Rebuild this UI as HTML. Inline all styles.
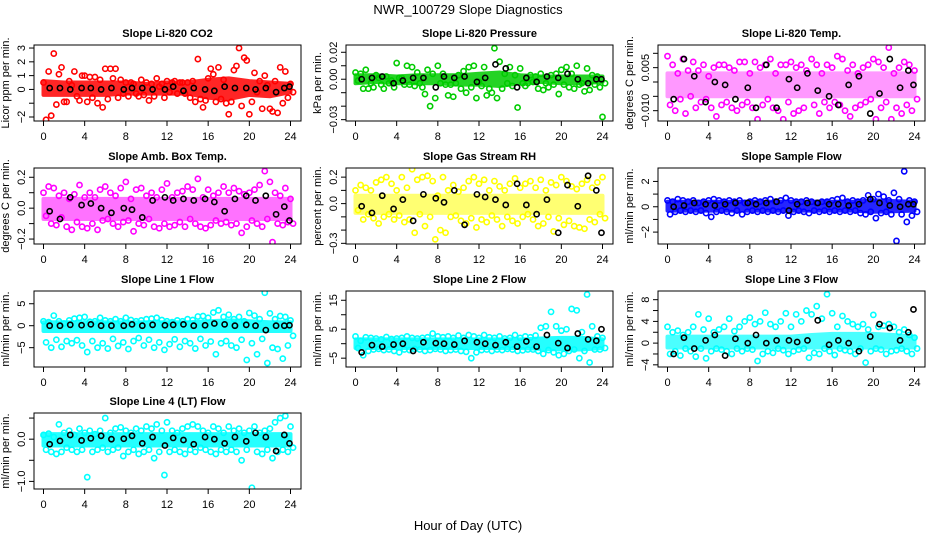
<!DOCTYPE html>
<html><head><meta charset="utf-8">
<style>
html,body{margin:0;padding:0;background:#fff;}
svg{display:block;font-family:"Liberation Sans",sans-serif;}
</style></head>
<body>
<svg id="chart" width="936" height="540" viewBox="0 0 936 540" xmlns="http://www.w3.org/2000/svg">
<text x="468" y="14" text-anchor="middle" font-size="13">NWR_100729  Slope Diagnostics</text>
<text x="468" y="530" text-anchor="middle" font-size="13">Hour of Day (UTC)</text>
</svg>
<script>
// ---- shared data ----
const xTicks = [0,4,8,12,16,20,24];
const blkHours = [0.6,1.6,2.6,3.7,4.6,5.6,6.6,7.8,8.6,9.6,10.6,11.8,12.6,13.6,14.6,15.7,16.6,17.6,18.6,19.7,20.6,21.6,22.6,23.4,23.9];

// CO2
const co2BandHi = [0.6,0.5,0.5,0.5,0.5,0.4,0.5,0.5,0.7,0.8,0.6,0.5,0.4];
const co2BandLo = [-0.4,-0.4,-0.4,-0.4,-0.3,-0.3,-0.3,-0.3,-0.6,-0.7,-0.4,-0.5,-0.2];
const co2A = [0.5,1.3,2.6,1.1,-0.9,0.6,1.3,-0.8,1.0,0.9,0.9,0.7,1.5,1.5,1.5,0.7,0.5,0.5,-0.3,0.7,0.5,0.4,0.8,0.4,0.6,0.5,-0.3,0.5,0.5,0.6,2.2,-1.3,0.8,1.1,1.6,0.7,-1.8,1.4,3.0,2.3,-1.8,1.2,0.6,1.0,-1.4,0.6,1.6,1.3,0.4];
const co2B = [-2.2,-1.9,-1.1,1.6,-0.9,0.3,-0.5,1.0,-0.9,-0.6,-1.0,-1.3,-0.7,0.8,-0.6,-0.3,-0.5,0.4,-0.5,-0.4,-0.8,-0.5,0.2,-0.6,-0.2,0.6,0.5,-0.3,-0.6,-0.9,-0.7,-0.8,1.5,-0.9,-0.7,-1.0,-0.9,1.7,-1.2,2.1,-0.9,-0.2,-1.4,0.3,-1.6,-1.7,-1.0,-0.6,-0.2];
const co2K = [0.1,0.1,0.0,0.1,0.1,0.0,0.1,0.0,0.1,0.1,0.0,0.0,0.2,-0.1,0.1,0.0,-0.1,0.2,0.1,0.1,0.0,0.1,-0.2,0.1,0.2];
// Pressure
const presBandHi = [.003,.003,.002,.003,.003,.003,.004,.005,.003,.002,.002,.002,.002];
const presBandLo = [-.003,-.002,-.003,-.003,-.003,-.004,-.004,-.005,-.003,-.002,-.003,-.003,-.002];
const presA = [.005,.004,.007,-.003,.003,-.004,.002,-.001,.012,.001,.010,.009,.005,-.006,.007,.004,.010,.004,-.012,-.013,.003,.006,.009,.010,-.002,.009,-.007,.023,.013,.004,.009,.003,.008,-.005,.003,.002,.004,-.003,.003,.004,.007,.009,.004,.010,-.003,.008,.003,.002,-.028];
const presB = [-.001,-.007,-.007,-.006,.001,-.007,-.003,-.006,.001,-.004,-.004,-.005,-.003,-.011,-.020,-.014,-.003,-.004,-.004,-.003,-.007,-.010,-.006,-.014,-.005,-.012,-.010,-.014,-.007,-.003,-.005,-.021,-.003,-.003,-.002,-.007,-.008,-.006,-.004,-.011,-.004,-.006,-.007,-.004,-.009,-.008,-.004,-.006,-.003];
const presK = [0,.001,.002,-.003,-.001,.001,.001,-.006,.002,.001,.002,-.002,.001,.011,.008,-.006,.001,-.002,.002,.001,.004,0,-.003,0,0];
// Li-820 Temp
const tempBandHi = [.003,.003,.003,.003,.003,.003,.003,.003,.003,.003,.003,.003,.003];
const tempBandLo = [-.005,-.005,-.005,-.005,-.005,-.005,-.005,-.005,-.005,-.005,-.005,-.005,-.005];
const tempA = [.009,.006,.003,.008,.004,.007,.004,.006,.002,.005,.006,.006,.005,.004,.007,.007,.003,.007,.005,.006,.008,.003,.006,.006,.007,.005,.006,.004,.008,.006,.003,.006,.005,.009,.008,.004,.006,.003,.005,.006,.008,.007,.005,.012,.003,.005,.007,.006,.004];
const tempB = [-.008,-.010,-.006,-.011,-.005,-.009,-.007,-.006,-.009,-.012,-.008,-.007,-.009,-.010,-.008,-.007,-.009,-.013,-.008,-.006,-.009,-.010,-.013,-.007,-.011,-.010,-.009,-.015,-.008,-.011,-.007,-.009,-.007,-.008,-.010,-.012,-.009,-.008,-.007,-.006,-.013,-.009,-.007,-.013,-.009,-.011,-.008,-.010,-.006];
const tempK = [-.006,.008,.002,-.007,.000,-.001,-.006,-.002,-.009,.006,-.009,.001,-.002,.003,-.003,-.005,-.008,-.001,.002,-.011,-.004,.008,-.002,.004,-.001];
// Amb box temp
const ambBandHi = [.06,.06,.06,.06,.06,.06,.06,.06,.06,.06,.06,.06,.06];
const ambBandLo = [-.07,-.07,-.07,-.07,-.07,-.07,-.07,-.07,-.07,-.07,-.07,-.07,-.07];
const ambA = [.10,.14,.13,.08,.10,.06,.09,.15,.07,.10,.07,.12,.14,.10,.08,.13,.17,.06,.12,.13,.08,.10,.07,.12,.16,.07,.10,.11,.14,.12,.19,.07,.12,.08,.10,.14,.10,.13,.11,.09,.10,.12,.15,.24,.17,.10,.08,.13,.06];
const ambB = [-.05,-.10,-.11,-.06,-.12,-.14,-.09,-.12,-.13,-.10,-.14,-.08,-.07,-.10,-.12,-.09,-.08,-.15,-.10,-.11,-.07,-.12,-.13,-.10,-.12,-.11,-.09,-.12,-.07,-.10,-.12,-.13,-.11,-.08,-.10,-.09,-.11,-.10,-.16,-.12,-.08,-.10,-.12,-.07,-.22,-.10,-.11,-.09,-.10];
const ambK = [-.02,-.07,.07,.02,.03,.00,-.03,.00,-.01,-.06,.05,.07,.05,.06,.05,.06,.04,-.02,.06,.08,.05,.08,-.04,.01,-.08];
// Gas stream RH
const rhBandHi = [.06,.06,.06,.06,.06,.06,.06,.06,.06,.06,.06,.06,.06];
const rhBandLo = [-.07,-.07,-.07,-.07,-.07,-.07,-.07,-.07,-.07,-.07,-.07,-.07,-.07];
const rhA = [.10,.14,.12,.10,.16,.18,.20,.15,.10,.20,.12,.26,.18,.20,.21,.17,.06,.20,.10,.14,.09,.12,.17,.20,.15,.18,.10,.17,.13,.10,.15,.19,.12,.15,.17,.12,.18,.10,.16,.14,.20,.17,.13,.11,.15,.18,.12,.16,.20];
const rhB = [-.05,-.12,-.08,-.11,-.15,-.10,-.08,-.12,-.09,-.14,-.12,-.22,-.08,-.17,-.10,-.27,-.20,-.22,-.10,-.09,-.13,-.15,-.11,-.18,-.12,-.14,-.09,-.12,-.17,-.10,-.13,-.15,-.10,-.08,-.12,-.17,-.15,-.10,-.21,-.11,-.16,-.13,-.17,-.18,-.19,-.12,-.14,-.08,-.11];
const rhK = [-.02,-.07,.06,-.04,.03,-.13,.07,.04,.01,.10,-.16,.07,.05,.03,-.01,.15,-.01,-.08,.03,-.22,.14,-.02,.21,.10,-.22];
// Sample flow
const sfBandHi = [.4,.4,.4,.4,.4,.4,.4,.4,.4,.4,.5,.45,.4];
const sfBandLo = [-.3,-.3,-.3,-.3,-.3,-.3,-.3,-.3,-.3,-.3,-.4,-.35,-.3];
const sfA = [.5,.4,.6,.5,.4,.5,.3,.4,.5,.6,.5,.4,.5,.4,.5,.3,.4,.5,.4,.5,.6,.4,.5,.7,.5,.4,.4,.5,.4,.3,.4,.4,.5,.6,.7,.4,.5,.4,.5,.9,.6,1.0,.8,.5,1.1,.6,2.8,.5,.4];
const sfB = [-.6,-.4,-.3,-.4,-.3,-.4,-.3,-.5,-.8,-.4,-.3,-.4,-.5,-.3,-.6,-.4,-.3,-.4,-.3,-.4,-.3,-.4,-.3,-.7,-.4,-.3,-.4,-.5,-.3,-.4,-.3,-.4,-.3,-.4,-.3,-.4,-.3,-.5,-.6,-.4,-.9,-.5,-.4,-.6,-2.7,-.6,-1.2,-.7,-.4];
const sfK = [.0,.1,.3,.2,.1,.2,.3,.3,.2,.3,.4,-.3,.2,.3,.3,.2,.2,.1,.2,.6,.3,.1,.0,.2,.2];
// Line 1
const l1BandHi = [0.8,0.8,0.8,0.8,0.8,0.8,0.8,0.8,1.0,1.2,1.0,0.8,0.8];
const l1BandLo = [-1.2,-1.2,-1.2,-1.2,-1.2,-1.2,-1.2,-1.2,-1.2,-1.2,-1.2,-1.2,-1.2];
const l1A = [1.0,0.8,2.3,1.0,0.5,1.2,1.6,1.8,2.0,0.9,1.0,1.8,1.2,1.0,1.5,1.0,1.8,1.3,1.0,1.2,1.5,1.6,1.8,1.3,1.0,0.8,1.2,1.0,1.5,1.3,2.1,2.2,1.8,3.0,3.5,2.0,2.5,1.5,2.0,1.0,2.9,2.3,1.5,7.5,2.8,1.5,2.2,2.0,1.2];
const l1B = [-3.8,-5.0,-3.2,-4.8,-3.5,-4.0,-3.3,-4.5,-6.0,-3.5,-5.0,-4.0,-5.2,-3.0,-4.6,-3.8,-5.3,-3.5,-2.8,-4.5,-3.2,-5.0,-3.8,-5.5,-4.2,-3.1,-4.8,-3.5,-4.0,-5.2,-3.0,-4.5,-3.6,-6.5,-4.0,-3.5,-4.5,-5.0,-3.2,-7.8,-4.0,-6.5,-3.0,-8.5,-5.0,-5.3,-7.5,-4.5,-2.3];
const l1K = [0,0,0.2,0.1,0.3,0,0,0,0.3,0,0.2,0.1,0.2,0.3,0,0.1,0.5,0.3,0,0.2,0,-1.0,0,0,0.1];
// Line 2
const l2BandHi = [1.5,1.5,1.5,1.5,1.5,1.5,1.5,1.5,1.5,1.8,2.0,2.0,1.5];
const l2BandLo = [-1.5,-1.5,-1.5,-1.5,-1.5,-1.5,-1.5,-1.5,-1.5,-1.8,-2.0,-2.0,-1.5];
const l2A = [2.5,1.0,2.2,2.0,1.8,1.5,2.3,1.6,1.8,2.0,2.5,2.0,1.8,2.0,2.2,3.5,2.5,2.2,2.5,2.0,2.8,2.0,3.0,2.5,2.0,3.0,2.2,2.0,2.5,1.8,2.0,3.0,2.0,2.5,2.2,2.8,5.5,6.0,11.0,6.0,4.5,5.0,12.0,11.5,4.0,17.0,6.0,2.5,2.0];
const l2B = [-1.5,-4.0,-2.5,-2.0,-1.8,-2.2,-2.0,-2.5,-3.0,-2.0,-2.2,-1.8,-2.0,-2.5,-2.2,-1.8,-2.0,-2.5,-2.2,-2.0,-2.5,-2.8,-5.0,-3.0,-2.2,-2.0,-2.5,-2.0,-2.2,-1.8,-2.0,-2.5,-2.3,-2.0,-2.0,-2.5,-3.5,-2.2,-3.0,-4.0,-3.5,-2.5,-2.0,-5.0,-2.5,-6.5,-2.0,-2.0,-1.5];
const l2K = [-3.0,-0.5,-1.0,-0.3,0,-2.5,0.5,0.2,0,-0.3,1.0,0.5,0,-0.5,0.5,-1.0,0.8,-1.0,3.0,0.2,-1.5,3.5,1.5,1.0,5.0];
// Line 3
const l3BandHi = [1.2,1.2,1.2,1.2,1.2,1.2,1.2,1.5,1.7,1.7,1.7,1.5,1.2];
const l3BandLo = [-0.8,-0.8,-0.8,-0.8,-0.8,-0.8,-0.8,-0.8,-0.8,-0.8,-0.8,-0.8,-0.8];
const l3A = [3.0,2.0,2.3,1.5,2.0,3.0,5.3,2.5,4.5,2.0,2.5,3.0,4.5,2.2,3.0,4.0,4.7,3.5,4.0,5.6,3.5,3.0,4.0,5.5,3.0,5.3,4.0,6.0,5.3,6.8,4.5,9.0,5.5,3.0,5.0,4.0,3.5,3.0,3.5,2.5,5.2,3.0,3.2,3.5,3.0,2.0,2.5,1.5,1.0];
const l3B = [-2.0,-1.5,-2.3,-1.0,-1.5,-2.5,-1.0,-2.8,-1.5,-1.0,-1.2,-1.5,-2.0,-1.0,-1.5,-1.0,-1.2,-3.3,-2.0,-1.5,-1.8,-1.0,-1.3,-2.0,-1.5,-1.2,-1.0,-2.7,-1.8,-2.0,-1.0,-1.5,-2.2,-1.0,-1.3,-1.5,-2.0,-1.0,-3.6,-1.5,-1.0,-1.2,-2.0,-1.5,-1.3,-1.0,-1.5,-2.0,-1.0];
const l3K = [-2.0,1.0,-1.0,0.5,1.5,-2.3,0.8,0,1.5,0,0.5,0.5,0.2,0.5,4.2,-0.3,0.5,0,-1.5,1.2,3.5,2.8,0.5,2.0,6.2];
// Line 4
const l4BandHi = [.12,.12,.12,.12,.12,.12,.12,.12,.12,.12,.12,.12,.12];
const l4BandLo = [-.15,-.15,-.15,-.15,-.15,-.15,-.15,-.15,-.15,-.15,-.15,-.15,-.15];
const l4A = [.10,.13,.05,.35,.15,.20,.10,.25,.15,.20,.12,.20,.50,.15,.25,.28,.20,.15,.25,.20,.30,.25,.35,.20,.40,.20,.15,.25,.30,.35,.30,.20,.15,.30,.25,.15,.30,.20,.25,.15,.20,.30,.15,.20,.25,.40,.50,.55,.30];
const l4B = [-.25,-.30,-.35,-.30,-.20,-.25,-.30,-.25,-.90,-.30,-.25,-.20,-.30,-.25,-.20,-.40,-.30,-.25,-.35,-.30,-.25,-.45,-.30,-.85,-.30,-.25,-.30,-.35,-.25,-.30,-.20,-.25,-.30,-.35,-.25,-.30,-.25,-.30,-.50,-.25,-1.15,-.30,-.35,-.25,-.45,-.30,-.25,-.30,-.20];
const l4K = [-.12,-.04,.10,-.03,.02,.08,.00,.01,.08,-.10,.05,-.15,.03,-.02,-.12,.05,.00,-.10,.05,-.05,.15,.05,-.28,.10,-.10];

// ---- tick arrays ----
const co2Ticks=[-2,-1,0,1,2,3], co2Labels=["-2","","0","1","2","3"];
const presTicks=[-0.03,-0.02,-0.01,0,0.01,0.02], presLabels=["-0.03","","","0.00","","0.02"];
const tempTicks=[-0.010,-0.005,0,0.005,0.010], tempLabels=["-0.010","","","0.005",""];
const ambTicks=[-0.2,-0.1,0,0.1,0.2], ambLabels=["-0.2","","0.0","","0.2"];
const rhTicks=[-0.3,-0.2,-0.1,0,0.1,0.2], rhLabels=["-0.3","","","0.0","","0.2"];
const sfTicks=[-2,-1,0,1,2], sfLabels=["-2","","0","","2"];
const l1Ticks=[-5,0,5], l1Labels=["-5","0","5"];
const l2Ticks=[-5,0,5,10,15], l2Labels=["-5","","5","","15"];
const l3Ticks=[-4,-2,0,2,4,6,8], l3Labels=["-4","","0","","4","","8"];
const l4Ticks=[-1.0,-0.5,0,0.5], l4Labels=["-1.0","","0.0",""];

const NS="http://www.w3.org/2000/svg";
const svg=document.getElementById('chart');
function mk(tag,attrs,parent){const e=document.createElementNS(NS,tag);for(const k in attrs)e.setAttribute(k,attrs[k]);(parent||svg).appendChild(e);return e;}

const panels=[
 {id:'co2',title:'Slope Li-820 CO2',ylab:'Licor ppm per min.',col:'#ff0000',op:0.85,L:34,T:45,ymin:-2.29,ymax:3.22,hi:co2BandHi,lo:co2BandLo,a:co2A,b:co2B,k:co2K,tk:co2Ticks,tl:co2Labels},
 {id:'pressure',title:'Slope Li-820 Pressure',ylab:'kPa per min.',col:'#00cc00',op:0.85,L:346,T:45,ymin:-0.031,ymax:0.0254,hi:presBandHi,lo:presBandLo,a:presA,b:presB,k:presK,tk:presTicks,tl:presLabels},
 {id:'li820-temp',title:'Slope Li-820 Temp.',ylab:'degrees C per min.',col:'#ff00ff',op:0.4,L:658,T:45,ymin:-0.0136,ymax:0.0129,hi:tempBandHi,lo:tempBandLo,a:tempA,b:tempB,k:tempK,tk:tempTicks,tl:tempLabels},
 {id:'amb-box-temp',title:'Slope Amb. Box Temp.',ylab:'degrees C per min.',col:'#ff00ff',op:0.55,L:34,T:168,ymin:-0.232,ymax:0.26,hi:ambBandHi,lo:ambBandLo,a:ambA,b:ambB,k:ambK,tk:ambTicks,tl:ambLabels},
 {id:'gas-stream-rh',title:'Slope Gas Stream RH',ylab:'percent per min.',col:'#ffff00',op:0.55,L:346,T:168,ymin:-0.305,ymax:0.269,hi:rhBandHi,lo:rhBandLo,a:rhA,b:rhB,k:rhK,tk:rhTicks,tl:rhLabels},
 {id:'sample-flow',title:'Slope Sample Flow',ylab:'ml/min per min.',col:'#0000ff',op:0.85,L:658,T:168,ymin:-2.94,ymax:3.06,hi:sfBandHi,lo:sfBandLo,a:sfA,b:sfB,k:sfK,tk:sfTicks,tl:sfLabels},
 {id:'line1-flow',title:'Slope Line 1 Flow',ylab:'ml/min per min.',col:'#00ffff',op:0.85,L:34,T:291,ymin:-9.4,ymax:7.9,hi:l1BandHi,lo:l1BandLo,a:l1A,b:l1B,k:l1K,tk:l1Ticks,tl:l1Labels},
 {id:'line2-flow',title:'Slope Line 2 Flow',ylab:'ml/min per min.',col:'#00ffff',op:0.85,L:346,T:291,ymin:-8.05,ymax:18.2,hi:l2BandHi,lo:l2BandLo,a:l2A,b:l2B,k:l2K,tk:l2Ticks,tl:l2Labels},
 {id:'line3-flow',title:'Slope Line 3 Flow',ylab:'ml/min per min.',col:'#00ffff',op:0.7,L:658,T:291,ymin:-4.4,ymax:9.6,hi:l3BandHi,lo:l3BandLo,a:l3A,b:l3B,k:l3K,tk:l3Ticks,tl:l3Labels},
 {id:'line4-flow',title:'Slope Line 4 (LT) Flow',ylab:'ml/min per min.',col:'#00ffff',op:0.85,L:34,T:413,ymin:-1.18,ymax:0.62,hi:l4BandHi,lo:l4BandLo,a:l4A,b:l4B,k:l4K,tk:l4Ticks,tl:l4Labels}
];
const W=267,H=76;

panels.forEach(p=>{
 const g=mk('g',{});
 
 
 const xs=h=>p.L+9.5+h*(247/24);
 const ys=v=>p.T+H-(v-p.ymin)/(p.ymax-p.ymin)*H;
 const clipId='clip-'+p.id;
 const cp=mk('clipPath',{id:clipId},g);
 mk('rect',{x:p.L,y:p.T,width:W,height:H},cp);
 const plot=mk('g',{'clip-path':'url(#'+clipId+')'},g);
 let d='';
 p.hi.forEach((v,i)=>{d+=(i?'L':'M')+xs(i*2).toFixed(1)+','+ys(v).toFixed(1);});
 for(let i=p.lo.length-1;i>=0;i--){d+='L'+xs(i*2).toFixed(1)+','+ys(p.lo[i]).toFixed(1);}
 const band=mk('path',{d:d+'Z',fill:p.col,stroke:p.col,'stroke-width':4,'stroke-linejoin':'round',opacity:p.op},plot);
 
 
 p.a.forEach((v,i)=>{
  const c=mk('circle',{cx:xs(i*0.5),cy:ys(v),r:2.6,fill:'none',stroke:p.col,'stroke-width':1.6},plot);
  
  
 });
 p.b.forEach((v,i)=>{
  const c=mk('circle',{cx:xs(i*0.5+0.25),cy:ys(v),r:2.6,fill:'none',stroke:p.col,'stroke-width':1.6},plot);
  
  
 });
 p.k.forEach((v,i)=>{
  const c=mk('circle',{cx:xs(blkHours[i]),cy:ys(v),r:2.6,fill:'none',stroke:'#000','stroke-width':1.6},plot);
  
  
 });
 const box=mk('rect',{x:p.L,y:p.T,width:W,height:H,fill:'none',stroke:'#000','stroke-width':1},g);
 
 
 const t=mk('text',{x:p.L+W/2,y:p.T-8,'text-anchor':'middle','font-size':11,'font-weight':'bold'},g);
 t.textContent=p.title;
 
 
 const ya=mk('g',{},g);
 
 
 const y0=ys(p.tk[0]), y1=ys(p.tk[p.tk.length-1]);
 mk('line',{x1:p.L,x2:p.L,y1:y0,y2:y1,stroke:'#000'},ya);
 p.tk.forEach((v,i)=>{
  const yy=ys(v);
  mk('line',{x1:p.L-5,x2:p.L,y1:yy,y2:yy,stroke:'#000'},ya);
  if(p.tl[i]){
   const lt=mk('text',{x:p.L-9,y:yy,'text-anchor':'middle','font-size':11,transform:'rotate(-90 '+(p.L-9)+' '+yy+')'},ya);
   lt.textContent=p.tl[i].replace('-','\u2212');
   
   
  }
 });
 const yl=mk('text',{x:p.L-25,y:p.T+H/2,'text-anchor':'middle','font-size':11,transform:'rotate(-90 '+(p.L-25)+' '+(p.T+H/2)+')'},g);
 yl.textContent=p.ylab;
 
 
 const xa=mk('g',{},g);
 
 
 const yb=p.T+H;
 mk('line',{x1:xs(0),x2:xs(24),y1:yb,y2:yb,stroke:'#000'},xa);
 xTicks.forEach(h=>{
  mk('line',{x1:xs(h),x2:xs(h),y1:yb,y2:yb+5,stroke:'#000'},xa);
  const lt=mk('text',{x:xs(h),y:yb+19,'text-anchor':'middle','font-size':11},xa);
  lt.textContent=h;
  
  
 });
});
</script>
</body></html>
